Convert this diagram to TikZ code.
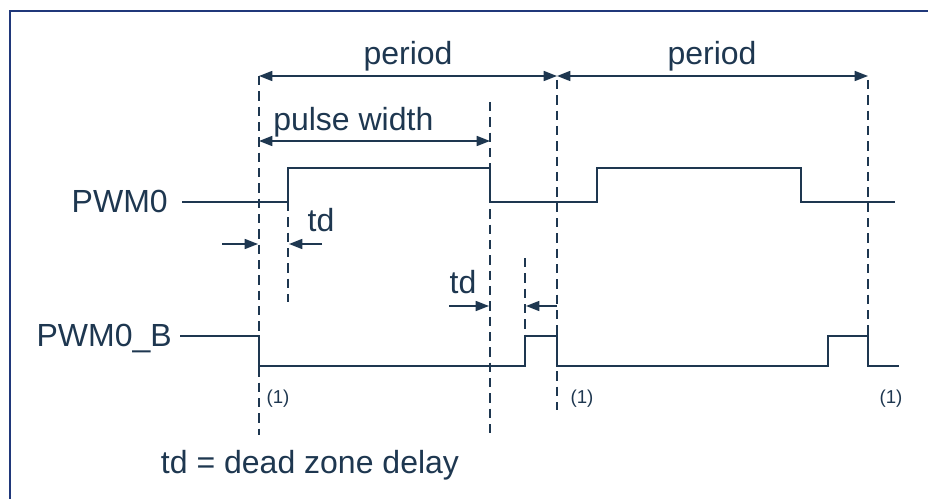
\documentclass[tikz,border=0pt]{standalone}
\usepackage{fontspec}
\setmainfont{Liberation Sans}
\usetikzlibrary{arrows.meta,positioning}
\definecolor{sig}{RGB}{30,55,80}
\definecolor{frm}{RGB}{32,56,122}

\begin{document}
\begin{tikzpicture}[x=0.75pt,y=-0.75pt,>={Triangle[length=10pt,width=7.5pt]},
  every node/.style={text=sig,font=\fontsize{24}{28}\selectfont,inner sep=0pt},
  wave/.style={draw=sig,line width=1.4pt},
  guide/.style={draw=sig,line width=1.2pt,dash pattern=on 7pt off 4.5pt},
  dim/.style={draw=sig,line width=1.2pt},
  note/.style={font=\fontsize{14}{16}\selectfont}]
\useasboundingbox (0,0) rectangle (928,499);
\draw[frm,line width=1.6pt] (10,499) -- (10,11) -- (928,11);

% time marks
\coordinate (p0) at (259,76);
\coordinate (p1) at (557,76);
\coordinate (p2) at (868,76);
\coordinate (w0) at (259,141);
\coordinate (w1) at (490,141);

% labels
\node[anchor=base] (per1) at (408,65) {period};
\node[anchor=base] (per2) at (712,65) {period};
\node[anchor=base west] (pw) at (273,131) {pulse width};
\node[anchor=base east] (pwm0) at (168,213) {PWM0};
\node[anchor=base east] (pwm0b) at (172,346) {PWM0\_B};
\node[anchor=base] (td1) at (321,231) {td};
\node[anchor=base] (td2) at (463,293) {td};
\node[anchor=base] (tdnote) at (310,473) {td = dead zone delay};
\node[note,anchor=base] (n1) at (278,403) {(1)};
\node[note,anchor=base] (n2) at (582,403) {(1)};
\node[note,anchor=base] (n3) at (891,403) {(1)};

% dimension arrows
\draw[dim,<->] (p0) -- (p1);
\draw[dim,<->] (p1) -- (p2);
\draw[dim,<->] (w0) -- (w1);

% dashed guides
\draw[guide] (p0) -- (259,435);
\draw[guide] (490,102) -- (490,437);
\draw[guide] (557,80) -- (557,410);
\draw[guide] (868,80) -- (868,336);
\draw[guide] (288,202) -- (288,302);
\draw[guide] (525,258) -- (525,336);

% waveforms
\draw[wave] (182,202) -- (288,202) -- (288,168) -- (490,168) -- (490,202)
  -- (597,202) -- (597,168) -- (801,168) -- (801,202) -- (895,202);
\draw[wave] (180,336) -- (259,336) -- (259,366) -- (525,366) -- (525,336)
  -- (557,336) -- (557,366) -- (828,366) -- (828,336) -- (868,336)
  -- (868,366) -- (899,366);

% dead zone markers
\draw[dim,->] (222,244) -- (258,244);
\draw[dim,->] (322,244) -- (289,244);
\draw[dim,->] (449,306) -- (489,306);
\draw[dim,->] (557,306) -- (526,306);
\end{tikzpicture}
\end{document}
